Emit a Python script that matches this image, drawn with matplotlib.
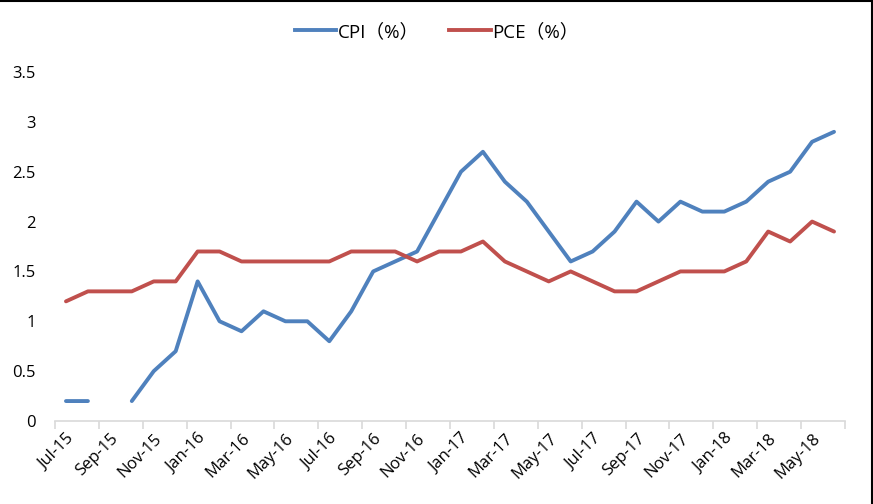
import matplotlib
matplotlib.use("Agg")
import matplotlib.pyplot as plt
import numpy as np
from matplotlib.lines import Line2D

plt.rcParams['font.family'] = ['Open Sans', 'Noto Sans CJK SC', 'DejaVu Sans']

months = ["Jul-15","Aug-15","Sep-15","Oct-15","Nov-15","Dec-15",
          "Jan-16","Feb-16","Mar-16","Apr-16","May-16","Jun-16",
          "Jul-16","Aug-16","Sep-16","Oct-16","Nov-16","Dec-16",
          "Jan-17","Feb-17","Mar-17","Apr-17","May-17","Jun-17",
          "Jul-17","Aug-17","Sep-17","Oct-17","Nov-17","Dec-17",
          "Jan-18","Feb-18","Mar-18","Apr-18","May-18","Jun-18"]
cpi = [0.2, 0.2, None, 0.2, 0.5, 0.7,
       1.4, 1.0, 0.9, 1.1, 1.0, 1.0,
       0.8, 1.1, 1.5, 1.6, 1.7, 2.1,
       2.5, 2.7, 2.4, 2.2, 1.9, 1.6,
       1.7, 1.9, 2.2, 2.0, 2.2, 2.1,
       2.1, 2.2, 2.4, 2.5, 2.8, 2.9]
pce = [1.2, 1.3, 1.3, 1.3, 1.4, 1.4,
       1.7, 1.7, 1.6, 1.6, 1.6, 1.6,
       1.6, 1.7, 1.7, 1.7, 1.6, 1.7,
       1.7, 1.8, 1.6, 1.5, 1.4, 1.5,
       1.4, 1.3, 1.3, 1.4, 1.5, 1.5,
       1.5, 1.6, 1.9, 1.8, 2.0, 1.9]
yticks = [0, 0.5, 1, 1.5, 2, 2.5, 3, 3.5]
ytick_labels = ["0", "0.5", "1", "1.5", "2", "2.5", "3", "3.5"]

W, H = 873, 504
fig = plt.figure(figsize=(W/100, H/100), dpi=100)
ax = fig.add_axes([55/W, 1 - 421/H, (845-55)/W, (421-72)/H])

x = np.arange(len(months))
cpi_arr = np.array([np.nan if v is None else v for v in cpi], dtype=float)
ax.plot(x, cpi_arr, color='#4F81BD', lw=2.8, solid_capstyle='round', solid_joinstyle='round')
ax.plot(x, pce, color='#C0504D', lw=2.8, solid_capstyle='round', solid_joinstyle='round')

ax.set_xlim(-0.5, len(months) - 0.5)
ax.set_ylim(0, 3.5)
ax.set_yticks(yticks)
ax.set_yticklabels(ytick_labels)

# labels at every other category center
ax.set_xticks(x[::2])
ax.set_xticklabels(months[::2], rotation=45, ha='right', va='top', rotation_mode='anchor')
ax.tick_params(axis='x', length=0, pad=7, labelsize=12, colors='#000000')
# tick marks at boundaries every 2 categories
ax.set_xticks(np.arange(-0.5, len(months), 2), minor=True)
ax.tick_params(axis='x', which='minor', length=6, color='#D9D9D9', width=1.2, direction='out')
ax.tick_params(axis='y', length=0, pad=14, labelsize=12)

for s in ['top', 'right', 'left']:
    ax.spines[s].set_visible(False)
ax.spines['bottom'].set_color('#D9D9D9')
ax.spines['bottom'].set_linewidth(1.2)

handles = [Line2D([], [], color='#4F81BD', lw=2.8), Line2D([], [], color='#C0504D', lw=2.8)]
fig.legend(handles, ['CPI（%）', 'PCE（%）'], loc='center', bbox_to_anchor=(437/W, 1 - 32/H),
           ncol=2, frameon=False, fontsize=13.5, handlelength=2.2, handletextpad=0.1, columnspacing=1.6)

# figure border (top, right)
fig.add_artist(Line2D([0, 1], [1 - 0.5/H, 1 - 0.5/H], transform=fig.transFigure, color='black', lw=1.5))
fig.add_artist(Line2D([1 - 1.5/W, 1 - 1.5/W], [0, 1], transform=fig.transFigure, color='black', lw=1.5))

fig.savefig('out.png', dpi=100)
